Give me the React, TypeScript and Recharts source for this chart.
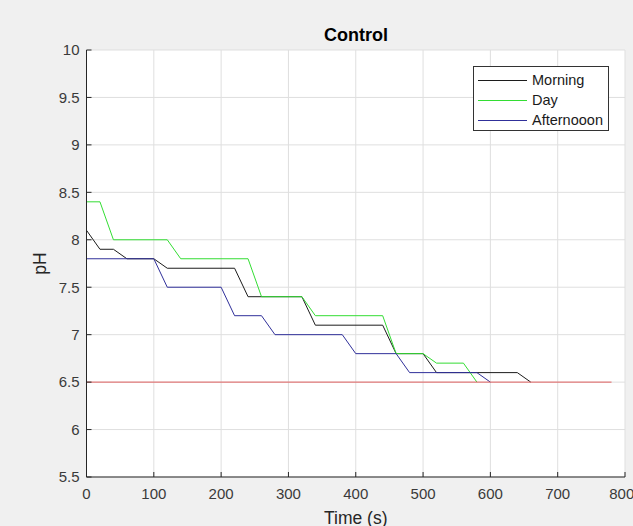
import { CartesianGrid, Legend, Line, LineChart, XAxis, YAxis } from "recharts";

const timeTicks = [0, 100, 200, 300, 400, 500, 600, 700, 800];
const phTicks = [5.5, 6, 6.5, 7, 7.5, 8, 8.5, 9, 9.5, 10];

const morningTime = [0, 20, 40, 60, 100, 120, 220, 240, 320, 340, 440, 460, 500, 520, 640, 660];
const morningPh = [8.1, 7.9, 7.9, 7.8, 7.8, 7.7, 7.7, 7.4, 7.4, 7.1, 7.1, 6.8, 6.8, 6.6, 6.6, 6.5];

const dayTime = [0, 20, 40, 120, 140, 240, 260, 320, 340, 440, 460, 500, 520, 560, 580];
const dayPh = [8.4, 8.4, 8.0, 8.0, 7.8, 7.8, 7.4, 7.4, 7.2, 7.2, 6.8, 6.8, 6.7, 6.7, 6.5];

const afternoonTime = [0, 100, 120, 200, 220, 260, 280, 380, 400, 460, 480, 580, 600];
const afternoonPh = [7.8, 7.8, 7.5, 7.5, 7.2, 7.2, 7.0, 7.0, 6.8, 6.8, 6.6, 6.6, 6.5];

const limitTime = [0, 780];
const limitPh = [6.5, 6.5];

const seriesNames = ["Morning", "Day", "Afternooon"];

const font = "'Liberation Sans', Arial, Helvetica, sans-serif";
const axisColor = "#262626";
const tickStyle = { fill: "#3a3a3a", fontSize: 15, fontFamily: font };

function zip(ts: number[], vs: number[]) {
  return ts.map((t, i) => ({ t, ph: vs[i] }));
}

function LegendBox({ payload }: { payload?: any[] }) {
  const items = [...(payload ?? [])]
    .filter((p) => seriesNames.includes(p.value))
    .sort((a, b) => seriesNames.indexOf(a.value) - seriesNames.indexOf(b.value));
  return (
    <div
      style={{
        width: 134,
        height: 60,
        border: "1px solid #333",
        background: "#fff",
        paddingTop: 3,
        boxSizing: "content-box",
        fontFamily: font,
      }}
    >
      {items.map((p) => (
        <div key={p.value} style={{ display: "flex", alignItems: "center", height: 20 }}>
          <svg width={49} height={20} style={{ marginLeft: 4, display: "block" }}>
            <line x1={0} x2={49} y1={10.5} y2={10.5} stroke={p.color} strokeWidth={1} />
          </svg>
          <span style={{ marginLeft: 5, fontSize: 14.5, color: "#1a1a1a", lineHeight: "20px" }}>{p.value}</span>
        </div>
      ))}
    </div>
  );
}

export default function App() {
  return (
    <div
      style={{
        position: "absolute",
        left: 0,
        top: 0,
        width: 633,
        height: 526,
        background: "#f0f0f0",
        overflow: "hidden",
        fontFamily: font,
      }}
    >
      <div
        style={{
          position: "absolute",
          left: 256,
          top: 25.5,
          width: 200,
          textAlign: "center",
          fontSize: 18,
          lineHeight: "18px",
          fontWeight: "bold",
          color: "#000",
          zIndex: 1,
        }}
      >
        Control
      </div>
      <LineChart width={633} height={526} margin={{ top: 50, right: 8, bottom: 0, left: 0.5 }}>
        <CartesianGrid stroke="#dfdfdf" fill="#ffffff" />
        <XAxis
          dataKey="t"
          type="number"
          domain={[0, 800]}
          ticks={timeTicks}
          allowDataOverflow
          height={49}
          tickSize={-5}
          tickMargin={16}
          stroke={axisColor}
          tick={tickStyle}
          label={{
            value: "Time (s)",
            position: "insideBottom",
            offset: 2,
            style: { fill: "#262626", fontSize: 17.5, fontFamily: font },
          }}
        />
        <XAxis
          xAxisId="top"
          orientation="top"
          type="number"
          domain={[0, 800]}
          ticks={timeTicks}
          height={0}
          tickSize={-5}
          tick={false}
          stroke={axisColor}
        />
        <YAxis
          type="number"
          domain={[5.5, 10]}
          ticks={phTicks}
          allowDataOverflow
          width={86}
          tickSize={-5}
          tickMargin={12}
          stroke={axisColor}
          tick={tickStyle}
          label={{
            value: "pH",
            angle: -90,
            position: "insideLeft",
            offset: 39.5,
            style: { textAnchor: "middle", fill: "#262626", fontSize: 17.5, fontFamily: font },
          }}
        />
        <YAxis
          yAxisId="right"
          orientation="right"
          type="number"
          domain={[5.5, 10]}
          ticks={phTicks}
          width={0}
          tickSize={-5}
          tick={false}
          stroke={axisColor}
        />
        <Legend
          verticalAlign="middle"
          align="center"
          layout="horizontal"
          wrapperStyle={{ position: "absolute", left: 473, top: 66, width: 136 }}
          content={(props: any) => <LegendBox payload={props.payload} />}
        />
        <Line
          data={zip(morningTime, morningPh)}
          dataKey="ph"
          name="Morning"
          stroke="#1c1c1c"
          strokeWidth={1}
          dot={false}
          activeDot={false}
          isAnimationActive={false}
        />
        <Line
          data={zip(dayTime, dayPh)}
          dataKey="ph"
          name="Day"
          stroke="#33dd33"
          strokeWidth={1}
          dot={false}
          activeDot={false}
          isAnimationActive={false}
        />
        <Line
          data={zip(afternoonTime, afternoonPh)}
          dataKey="ph"
          name="Afternooon"
          stroke="#30309a"
          strokeWidth={1}
          dot={false}
          activeDot={false}
          isAnimationActive={false}
        />
        <Line
          data={zip(limitTime, limitPh)}
          dataKey="ph"
          name="limit"
          legendType="none"
          stroke="#e06060"
          strokeWidth={1}
          dot={false}
          activeDot={false}
          isAnimationActive={false}
        />
      </LineChart>
    </div>
  );
}
